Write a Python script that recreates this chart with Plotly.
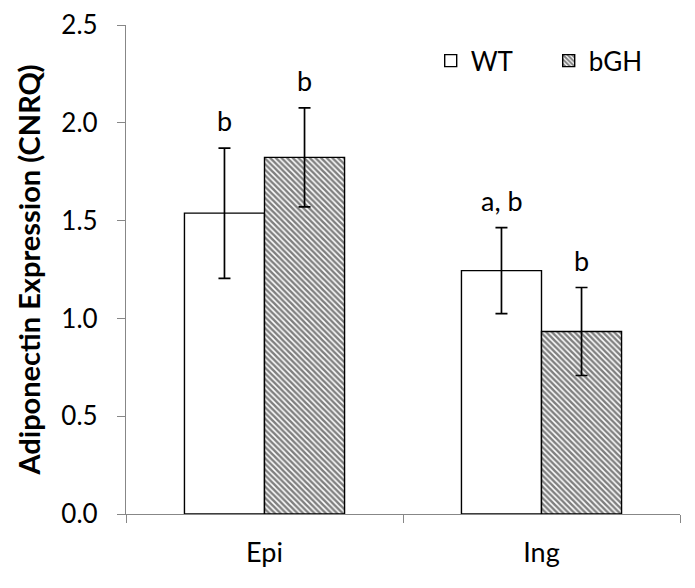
import plotly.graph_objects as go

categories = ["Epi", "Ing"]
wt_values = [1.538, 1.244]
wt_errors = [0.333, 0.220]
bgh_values = [1.823, 0.933]
bgh_errors = [0.253, 0.225]
wt_labels = ["b", "a, b"]
bgh_labels = ["b", "b"]
y_tickvals = [0, 0.5, 1.0, 1.5, 2.0, 2.5]
y_ticktext = ["0.0", "0.5", "1.0", "1.5", "2.0", "2.5"]

FONT = "Lato"
AXIS_GRAY = "#878787"

fig = go.Figure()
fig.add_trace(go.Bar(
    name="WT", x=categories, y=wt_values,
    marker=dict(color="white", line=dict(color="black", width=1.4)),
    error_y=dict(type="data", array=wt_errors, color="black", thickness=1.7, width=6),
))
fig.add_trace(go.Bar(
    name="bGH", x=categories, y=bgh_values,
    marker=dict(color="white", line=dict(color="black", width=1.4),
                pattern=dict(shape="\\", size=4, solidity=0.62, fgcolor="black", bgcolor="white")),
    error_y=dict(type="data", array=bgh_errors, color="black", thickness=1.7, width=6),
))

for i, c in enumerate(categories):
    fig.add_annotation(x=c, y=wt_values[i] + wt_errors[i], text=wt_labels[i], xshift=-40,
                       yanchor="bottom", yshift=9, showarrow=False,
                       font=dict(family=FONT, size=27, color="black"))
    fig.add_annotation(x=c, y=bgh_values[i] + bgh_errors[i], text=bgh_labels[i], xshift=40,
                       yanchor="bottom", yshift=9, showarrow=False,
                       font=dict(family=FONT, size=27, color="black"))

fig.update_layout(
    width=695, height=588,
    margin=dict(l=118, r=23, t=17, b=82),
    paper_bgcolor="white", plot_bgcolor="white",
    barmode="group", bargap=0.422, bargroupgap=0,
    font=dict(family=FONT, color="black"),
    showlegend=True,
    legend=dict(orientation="h", x=0.55, y=0.975, xanchor="left", yanchor="top",
                entrywidth=73, entrywidthmode="pixels",
                font=dict(family=FONT, size=26, color="black"), bgcolor="rgba(0,0,0,0)"),
    xaxis=dict(type="category", tickson="boundaries", ticks="outside", ticklen=8,
               tickcolor=AXIS_GRAY, tickwidth=1.3, showline=True, linecolor=AXIS_GRAY,
               linewidth=1.3, showgrid=False, tickfont=dict(family=FONT, size=27),
               ticklabelstandoff=14, automargin=False),
    yaxis=dict(range=[0, 2.5], tickvals=y_tickvals, ticktext=y_ticktext, ticks="outside",
               ticklen=8, tickcolor=AXIS_GRAY, tickwidth=1.3, showline=True,
               linecolor=AXIS_GRAY, linewidth=1.3, showgrid=False, zeroline=False,
               tickfont=dict(family=FONT, size=26), ticklabelstandoff=14, automargin=False,
               ticklabeloverflow="allow",
               title=dict(text="<b>Adiponectin Expression (CNRQ)</b>",
                          font=dict(family=FONT, size=29), standoff=12)),
)

fig.write_html("out.html")
